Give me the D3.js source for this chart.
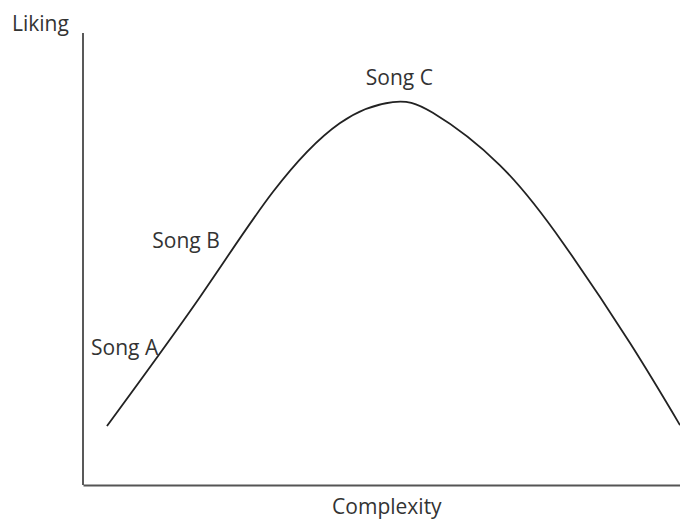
<!DOCTYPE html>
<html lang="en">
  <head>
    <meta charset="UTF-8" />
    <title>Liking vs Complexity</title>
    <style>
      body { margin: 0; background: #fff; }
      svg text { font-family: "Open Sans", sans-serif; fill: #333; }
    </style>
  </head>
  <body>
    <div id="chart"></div>

    <script src="https://d3js.org/d3.v7.min.js"></script>

    <script>
      // curve (complexity 0-100, liking 0-100)
      const complexity = [4.0, 19.6, 31.8, 43.0, 51.9, 58.6, 69.8, 80.4, 91.6, 100];
      const liking = [13.1, 41.8, 65.1, 80.4, 85.1, 82.7, 71.1, 53.8, 31.6, 13.3];

      const songNames = ["Song A", "Song B", "Song C"];
      const songX = [12.6, 22.9, 53.0];
      const songY = [28.9, 52.7, 88.9];
      const songAnchor = ["end", "end", "middle"];

      const width = 680;
      const height = 520;
      const marginTop = 33, marginRight = 0, marginBottom = 35, marginLeft = 83;

      const x = d3.scaleLinear([0, 100], [marginLeft, width - marginRight]);
      const y = d3.scaleLinear([0, 100], [height - marginBottom, marginTop + 2]);

      const svg = d3.select("#chart").append("svg")
          .attr("width", width)
          .attr("height", height)
          .attr("viewBox", [0, 0, width, height]);

      // axes: plain lines, no ticks
      svg.append("g")
          .attr("transform", `translate(${marginLeft},0)`)
          .call(d3.axisLeft(y).tickValues([]).tickSizeOuter(0))
          .call(g => g.select(".domain").attr("stroke", "#222").attr("stroke-width", 1.5)
              .attr("d", `M0,${marginTop}V${height - marginBottom}`));

      svg.append("g")
          .attr("transform", `translate(0,${height - marginBottom})`)
          .call(d3.axisBottom(x).tickValues([]).tickSizeOuter(0))
          .call(g => g.select(".domain").attr("stroke", "#555").attr("stroke-width", 2));

      const line = d3.line()
          .x(i => x(complexity[i]))
          .y(i => y(liking[i]))
          .curve(d3.curveNatural);

      svg.append("path")
          .attr("fill", "none")
          .attr("stroke", "#222")
          .attr("stroke-width", 1.8)
          .attr("d", line(d3.range(complexity.length)));

      svg.append("g")
        .selectAll("text")
        .data(d3.range(songNames.length))
        .join("text")
          .attr("x", i => x(songX[i]))
          .attr("y", i => y(songY[i]))
          .attr("text-anchor", i => songAnchor[i])
          .attr("font-size", 21)
          .text(i => songNames[i]);

      svg.append("text")
          .attr("x", 12)
          .attr("y", 31)
          .attr("font-size", 21)
          .text("Liking");

      svg.append("text")
          .attr("x", x(50.9))
          .attr("y", 514)
          .attr("text-anchor", "middle")
          .attr("font-size", 21)
          .text("Complexity");
    </script>
  </body>
</html>
